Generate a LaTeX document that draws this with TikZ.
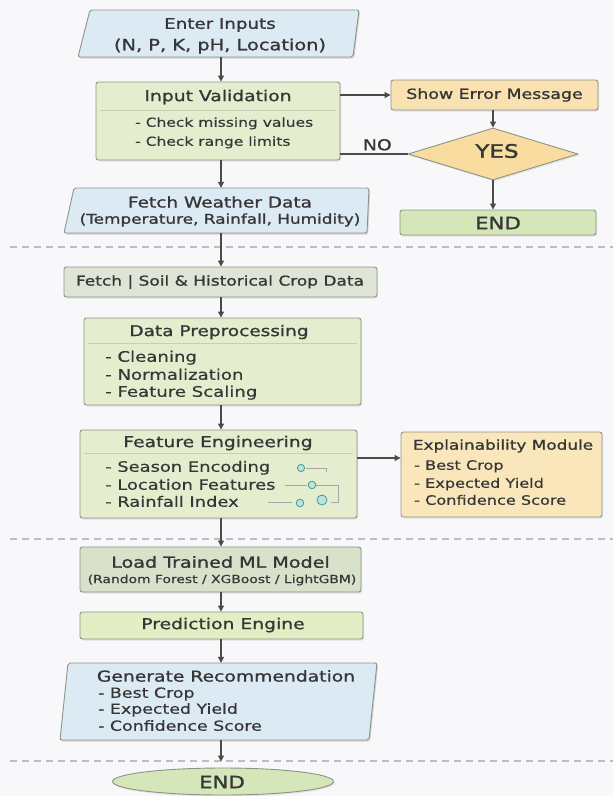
\documentclass[tikz,border=0pt]{standalone}
\usepackage{fontspec}
\setmainfont{DejaVu Sans}[FakeStretch=1.25, FakeBold=0.35]
\newfontfamily\tf{DejaVu Sans}[FakeStretch=1.25, FakeBold=1.1]
\newfontfamily\hf{DejaVu Sans}[FakeStretch=1.25, FakeBold=1.6]
\usetikzlibrary{shapes.geometric,arrows.meta,shadows}
\definecolor{bg}{HTML}{F8F8FA}
\definecolor{blueF}{HTML}{DCEAF3}
\definecolor{greenF}{HTML}{E5EDCF}
\definecolor{soilF}{HTML}{DEE5D6}
\definecolor{loadF}{HTML}{D8E1CA}
\definecolor{peF}{HTML}{E4EEC4}
\definecolor{orF}{HTML}{F9E1B2}
\definecolor{diaF}{HTML}{F8DCA0}
\definecolor{explF}{HTML}{FAE6BB}
\definecolor{endF}{HTML}{D5E7B8}
\definecolor{edge}{HTML}{8C9488}
\definecolor{txt}{HTML}{363636}
\definecolor{arrc}{HTML}{4A4A4A}
\definecolor{dashc}{HTML}{BDBDC2}
\definecolor{sepc}{HTML}{C6CFB4}
\definecolor{teal}{HTML}{3E9C92}
\definecolor{tealF}{HTML}{BFE3DC}
\begin{document}
\begin{tikzpicture}[x=1pt,y=-1pt,
  box/.style={draw=edge, line width=0.9pt, rounded corners=2.5pt, inner sep=0pt,
    drop shadow={opacity=0.18, shadow xshift=1.2pt, shadow yshift=-1.5pt}},
  pshape/.style={draw=edge, line width=0.9pt, fill=blueF, rounded corners=2pt},
  pshadow/.style={fill=black, opacity=0.15, xshift=1.2pt, yshift=-1.5pt, rounded corners=2pt},
  ghost/.style={inner sep=0pt, draw=none},
  ttl/.style={font=\fontsize{#1}{#1}\tf, text=txt, inner sep=0pt},
  ttl/.default=14.8,
  hvy/.style={font=\fontsize{#1}{#1}\hf, text=txt, inner sep=0pt},
  itm/.style={font=\fontsize{#1}{#1}\selectfont, text=txt, anchor=west, inner sep=0pt,
    text height=10.5pt, text depth=3pt},
  itm/.default=14.3,
  arr/.style={draw=arrc, line width=1.1pt, -{Triangle[length=6pt,width=6pt]}},
  sepl/.style={draw=sepc, line width=0.8pt},
  dsh/.style={draw=dashc, line width=1.2pt, dash pattern=on 7pt off 5pt},
  icn/.style={draw=teal, fill=tealF, line width=0.8pt},
  icl/.style={draw=gray!70, line width=0.7pt}
]
\fill[bg] (0,0) rectangle (613,796);
\useasboundingbox (0,0) rectangle (613,796);
\coordinate (col) at (221,0);

% dashed separators
\draw[dsh] (10,247) -- (613,247);
\draw[dsh] (10,539) -- (613,539);
\draw[dsh] (10,761) -- (613,761);

% Enter Inputs (parallelogram)
\fill[pshadow] (78,57) -- (90,10) -- (359,10) -- (353,57) -- cycle;
\draw[pshape] (78,57) -- (90,10) -- (359,10) -- (353,57) -- cycle;
\node[ghost, minimum width=270pt, minimum height=47pt] (inp) at (221,33.5) {};
\node[ttl=14.6] at (220,25) {Enter Inputs};
\node[ttl=15.5] at (220,46) {(N, P, K, pH, Location)};

% Input Validation
\node[box, fill=greenF, minimum width=244pt, minimum height=78pt] (val) at (218,121) {};
\node[ttl=15] at (218,97) {Input Validation};
\draw[sepl] (100,110) -- (336,110);
\node[itm=12.4] at (135,123) {- Check missing values};
\node[itm=12.4] at (135,142) {- Check range limits};

% Show Error Message
\node[box, fill=orF, minimum width=207pt, minimum height=30pt] (err) at (494.5,95) {};
\node[ttl=13.9] at (494.5,95) {Show Error Message};

% Decision
\node[diamond, draw=edge, line width=0.9pt, fill=diaF, minimum width=170pt, minimum height=52pt, inner sep=0pt,
  drop shadow={opacity=0.18, shadow xshift=1.2pt, shadow yshift=-1.5pt}] (dec) at (493,154) {};
\node[hvy=18.5] at (497,151) {YES};

% END right
\node[box, fill=endF, minimum width=196pt, minimum height=25pt] (end1) at (498,222.5) {};
\node[hvy=17] at (498,223) {END};

% Fetch Weather Data
\fill[pshadow] (64,233) -- (74,188) -- (369,188) -- (367,233) -- cycle;
\draw[pshape] (64,233) -- (74,188) -- (369,188) -- (367,233) -- cycle;
\node[ghost, minimum width=300pt, minimum height=45pt] (fw) at (218,210.5) {};
\node[ttl] at (220,202) {Fetch Weather Data};
\node[ttl=13.5] at (220,220) {(Temperature, Rainfall, Humidity)};

% Fetch Soil
\node[box, fill=soilF, minimum width=313pt, minimum height=30pt] (soil) at (220.5,282) {};
\node[ttl=13.6] at (220,282) {Fetch | Soil \& Historical Crop Data};

% Data Preprocessing
\node[box, fill=greenF, minimum width=277pt, minimum height=87pt] (dp) at (222.5,361.5) {};
\node[ttl] at (219,332) {Data Preprocessing};
\draw[sepl] (88,343) -- (357,343);
\node[itm=14.5] at (105,358) {- Cleaning};
\node[itm=14.5] at (105,376) {- Normalization};
\node[itm=14.5] at (105,393) {- Feature Scaling};

% Feature Engineering
\node[box, fill=greenF, minimum width=277pt, minimum height=88pt] (fe) at (218.5,474) {};
\node[ttl=15] at (218,443) {Feature Engineering};
\draw[sepl] (84,453) -- (353,453);
\node[itm] at (105,468) {- Season Encoding};
\node[itm] at (105,486) {- Location Features};
\node[itm] at (105,503) {- Rainfall Index};
% icons
\draw[icl] (306,468) -- (326,468) -- (326,472);
\draw[icn] (301,468) circle (3.6pt);
\draw[icl] (285,485) -- (307,485);
\draw[icl] (316,485) -- (338,485) -- (338,502) -- (331,502);
\draw[icn] (312,485) circle (3.8pt);
\draw[icl] (268,502) -- (292,502);
\draw[icn] (300,503) circle (3.8pt);
\draw[icn] (322,500) circle (5pt);

% Explainability Module
\node[box, fill=explF, minimum width=201pt, minimum height=85pt] (expl) at (501.5,474.5) {};
\node[ttl=13.5] at (503,446) {Explainability Module};
\node[itm=12.9] at (414,466) {- Best Crop};
\node[itm=12.9] at (414,484) {- Expected Yield};
\node[itm=12.9] at (414,501) {- Confidence Score};

% Load Trained ML Model
\node[box, fill=loadF, minimum width=281pt, minimum height=45pt] (load) at (220.5,569.5) {};
\node[ttl=15.3] at (220.5,562) {Load Trained ML Model};
\node[font=\fontsize{11.1}{13}\selectfont, text=txt, inner sep=0pt] at (222,580) {(Random Forest / XGBoost / LightGBM)};

% Prediction Engine
\node[box, fill=peF, minimum width=283pt, minimum height=27pt] (pe) at (221.5,625.5) {};
\node[ttl=15] at (223,625) {Prediction Engine};

% Generate Recommendation
\fill[pshadow] (60,740) -- (68,663) -- (377,663) -- (369,740) -- cycle;
\draw[pshape] (60,740) -- (68,663) -- (377,663) -- (369,740) -- cycle;
\node[ghost, minimum width=309pt, minimum height=77pt] (gr) at (218.5,701.5) {};
\node[ttl=15] at (226,676) {Generate Recommendation};
\node[itm=13.9] at (98,694) {- Best Crop};
\node[itm=13.9] at (98,710) {- Expected Yield};
\node[itm=13.9] at (98,727) {- Confidence Score};

% END bottom
\node[ellipse, draw=edge, line width=0.9pt, fill=endF, minimum width=221pt, minimum height=27pt, inner sep=0pt,
  drop shadow={opacity=0.18, shadow xshift=1.2pt, shadow yshift=-1.5pt}] (endb) at (223,781.5) {};
\node[hvy=17] at (222,782) {END};

% connectors
\draw[arr] (inp.south -| col) -- (val.north -| col);
\draw[arr] (err.west -| val.east) -- (err.west);
\draw[arr] (err.south -| dec.north) -- (dec.north);
\draw[arr] (dec.south) -- (end1.north -| dec.south);
\draw[draw=arrc, line width=1.1pt] (dec.west -| val.east) -- (dec.west) node[pos=0.55, above=3pt, font=\fontsize{15}{16}\tf, text=txt, inner sep=0pt] {NO};
\draw[arr] (val.south -| col) -- (fw.north -| col);
\draw[arr] (fw.south -| col) -- (soil.north -| col);
\draw[arr] (soil.south -| col) -- (dp.north -| col);
\draw[arr] (dp.south -| col) -- (fe.north -| col);
\draw[arr] ([yshift=16pt]fe.east) -- ([yshift=16pt]fe.east -| expl.west);
\draw[arr] (fe.south -| col) -- (load.north -| col);
\draw[arr] (load.south -| col) -- (pe.north -| col);
\draw[arr] (pe.south -| col) -- (gr.north -| col);
\draw[arr] (gr.south -| col) -- ([yshift=6pt]endb.north -| col);
\end{tikzpicture}
\end{document}
